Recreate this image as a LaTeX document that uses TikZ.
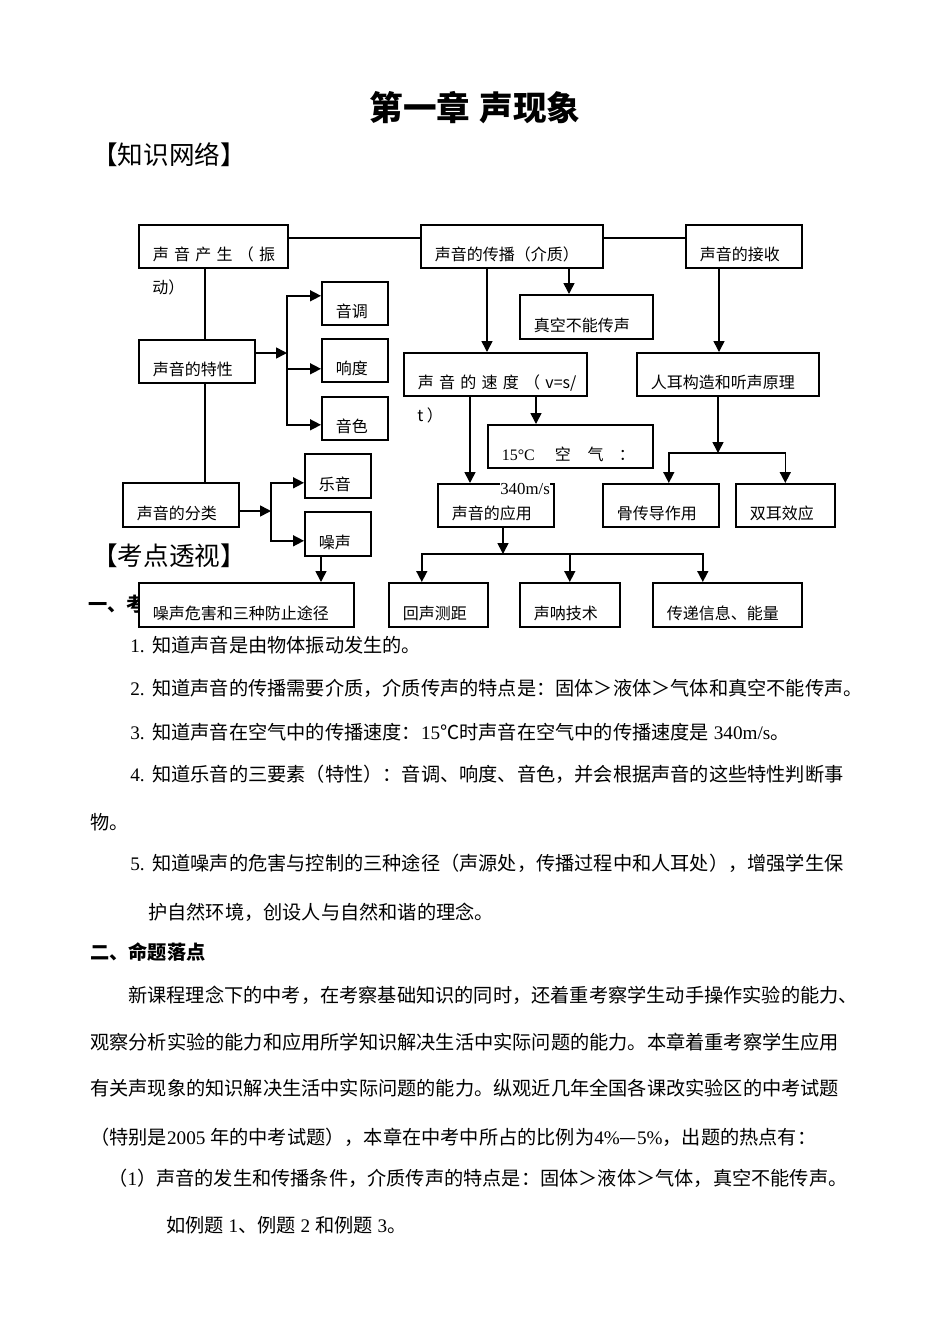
\documentclass[tikz,border=0pt]{standalone}
\usepackage{fontspec}
\setmainfont{Noto Sans CJK SC}
\newfontfamily\lat{Liberation Serif}
\usetikzlibrary{arrows.meta}

\newcommand{\un}{0.625pt}
\newcommand{\gp}{\hspace{3.3pt}}

\tikzset{
  box/.style 2 args={draw, line width=1pt, fill=white, anchor=north west,
    inner xsep=14*\un, inner ysep=0pt, text width=(#1-28)*\un,
    text height=(#2-7)*\un, text depth=7*\un, align=left,
    font=\fontsize{10}{12}\selectfont},
  over/.style={anchor=base west, inner sep=0pt, font=\fontsize{10}{12}\selectfont},
  body/.style={anchor=base west, inner sep=0pt, font=\fontsize{12}{14}\selectfont},
  arr/.style={-{Triangle[length=6.8pt, width=6.8pt]}, line width=1pt},
  ln/.style={line width=1pt}
}

\begin{document}
\begin{tikzpicture}[x=\un, y=-\un]
    % Page
    \fill[white] (0,0) rectangle (950,1342);

    % Draw title and headings
    \node[font=\fontsize{21}{24}\selectfont\bfseries] (title) at (475,108) {第一章\hspace{6pt}声现象};
    \node[anchor=west, inner sep=0pt, font=\fontsize{16}{18}\selectfont] (wangluo) at (92,155) {【知识网络】};
    \node[anchor=west, inner sep=0pt, font=\fontsize{16}{18}\selectfont] (toushi) at (92,556) {【考点透视】};
    \node[body, font=\fontsize{12}{14}\selectfont\bfseries] (yi) at (88,611) {一、考};

    % Draw boxes
    \node[box={149}{43}] (chansheng) at (138,224) {\mbox{声\gp{}音\gp{}产\gp{}生\gp{}（\gp{}振}};
    \node[box={182}{43}] (chuanbo) at (420,224) {声音的传播（介质）};
    \node[box={116}{43}] (jieshou) at (685,224) {声音的接收};
    \node[box={66}{43}] (yindiao) at (321,281) {音调};
    \node[box={133}{44}] (zhenkong) at (519,294) {真空不能传声};
    \node[box={66}{43}] (xiangdu) at (321,338) {响度};
    \node[box={116}{43}] (texing) at (138,339) {声音的特性};
    \node[box={183}{43}] (sudu) at (403,352) {\mbox{声\gp{}音\gp{}的\gp{}速\gp{}度\gp{}（\gp{}v=s/}};
    \node[box={182}{43}] (renger) at (636,352) {人耳构造和听声原理};
    \node[box={66}{43}] (yinse) at (321,396) {音色};
    \node[box={66}{44}] (leyin) at (304,453) {乐音};
    \node[box={116}{44}] (fenlei) at (122,482) {声音的分类};
    \node[box={116}{43}] (yingyong) at (437,483) {声音的应用};
    \node[box={116}{43}] (guchuandao) at (602,483) {骨传导作用};
    \node[box={99}{43}] (shuanger) at (735,483) {双耳效应};
    \node[box={165}{43}] (kongqi) at (487,424) {\mbox{{\lat 15°C}\hspace{12.5pt}空\hspace{10.5pt}气\hspace{9.5pt}：}};
    \node[box={66}{44}] (zaosheng) at (304,511) {噪声};
    \node[box={215}{44}] (weihai) at (138,582) {噪声危害和三种防止途径};
    \node[box={99}{44}] (huisheng) at (388,582) {回声测距};
    \node[box={100}{44}] (shengna) at (519,582) {声呐技术};
    \node[box={149}{44}] (chuandi) at (652,582) {传递信息、能量};

    % Text running out of the boxes
    \node[over] (chansheng2) at ([shift={(14,25)}]chansheng.south west) {动）};
    \node[over] (sudu2) at ([shift={(14,25)}]sudu.south west) {t ）};
    \node[over, fill=white, font=\lat\fontsize{10.5}{12}\selectfont] (kongqi2) at ([shift={(13,26)}]kongqi.south west) {340m/s};

    % Draw top connecting lines
    \draw[ln] ([shift={(0,14)}]chansheng.north east) -- ([shift={(0,14)}]chuanbo.north west);
    \draw[ln] ([shift={(0,14)}]chuanbo.north east) -- ([shift={(0,14)}]jieshou.north west);

    % Draw left column
    \draw[ln] (chansheng.south west) ++(67,0) coordinate (c1) -- (c1 |- texing.north);
    \draw[ln] (texing.south west) ++(67,0) coordinate (c2) -- (c2 |- fenlei.north);

    \coordinate (b1) at (287,353);
    \draw[arr] (texing.east |- b1) -- (b1);
    \draw[arr] (b1) |- ([shift={(0,-7.5)}]yindiao.west);
    \draw[arr] (b1) |- ([shift={(0,8.5)}]xiangdu.west);
    \draw[arr] (b1) |- ([shift={(0,6.5)}]yinse.west);

    \coordinate (b2) at (271,511);
    \draw[arr] (fenlei.east |- b2) -- (b2);
    \draw[arr] (b2) |- ([shift={(0,7)}]leyin.west);
    \draw[arr] (b2) |- ([shift={(0,7)}]zaosheng.west);
    \draw[arr] (zaosheng.south west) ++(17,0) coordinate (c3) -- (c3 |- weihai.north);

    % Draw middle and right columns
    \draw[arr] (chuanbo.south west) ++(67,0) coordinate (c4) -- (c4 |- sudu.north);
    \draw[arr] (chuanbo.south west) ++(149,0) coordinate (c5) -- (c5 |- zhenkong.north);
    \draw[arr] (jieshou.south west) ++(34,0) coordinate (c6) -- (c6 |- renger.north);
    \draw[arr] (sudu.south west) ++(67,0) coordinate (c7) -- (c7 |- yingyong.north);
    \draw[arr] (sudu.south west) ++(133,0) coordinate (c8) -- (c8 |- kongqi.north);

    \coordinate (j1) at (718,453);
    \draw[arr] (renger.south -| j1) -- (j1);
    \draw[arr] (j1) -| ([shift={(8,0)}]guchuandao.north);
    \draw[arr] (j1) -| (shuanger.north);

    \coordinate (j2) at (503,554);
    \draw[arr] (yingyong.south -| j2) -- (j2);
    \draw[arr] (j2) -| ([shift={(-16.5,0)}]huisheng.north);
    \draw[arr] (j2) -| (shengna.north);
    \draw[arr] (j2) -| ([shift={(-24.5,0)}]chuandi.north);

    % Body text
    \node[body] (kd1) at (130,652) {{\lat 1.}\hspace{4.7pt}知道声音是由物体振动发生的。};
    \node[body] (kd2) at (130,695) {{\lat 2.}\hspace{4.7pt}知道声音的传播需要介质，介质传声的特点是：固体＞液体＞气体和真空不能传声。};
    \node[body] (kd3) at (130,739) {{\lat 3.}\hspace{4.7pt}知道声音在空气中的传播速度：{\lat 15}℃时声音在空气中的传播速度是{\lat\ 340m/s}。};
    \node[body] (kd4) at (130,781) {{\lat 4.}\hspace{4.7pt}知道乐音的三要素（特性）：音调、响度、音色，并会根据声音的这些特性判断事};
    \node[body] (kd4b) at (90,829) {物。};
    \node[body] (kd5) at (130,870) {{\lat 5.}\hspace{4.7pt}知道噪声的危害与控制的三种途径（声源处，传播过程中和人耳处），增强学生保};
    \node[body] (kd5b) at (148,919) {护自然环境，创设人与自然和谐的理念。};
    \node[body, font=\fontsize{12}{14}\selectfont\bfseries] (er) at (90,959) {二、命题落点};
    \node[body] (p1) at (128,1002) {新课程理念下的中考，在考察基础知识的同时，还着重考察学生动手操作实验的能力、};
    \node[body] (p2) at (90,1049) {观察分析实验的能力和应用所学知识解决生活中实际问题的能力。本章着重考察学生应用};
    \node[body] (p3) at (90,1095) {有关声现象的知识解决生活中实际问题的能力。纵观近几年全国各课改实验区的中考试题};
    \node[body] (p4) at (90,1144) {（特别是{\lat 2005 }年的中考试题），本章在中考中所占的比例为{\lat 4\%}—{\lat 5\%}，出题的热点有：};
    \node[body] (p5) at (108,1185) {（{\lat 1}）声音的发生和传播条件，介质传声的特点是：固体＞液体＞气体，真空不能传声。};
    \node[body] (p6) at (166,1232) {如例题{\lat\ 1}、例题{\lat\ 2 }和例题{\lat\ 3}。};
\end{tikzpicture}
\end{document}
